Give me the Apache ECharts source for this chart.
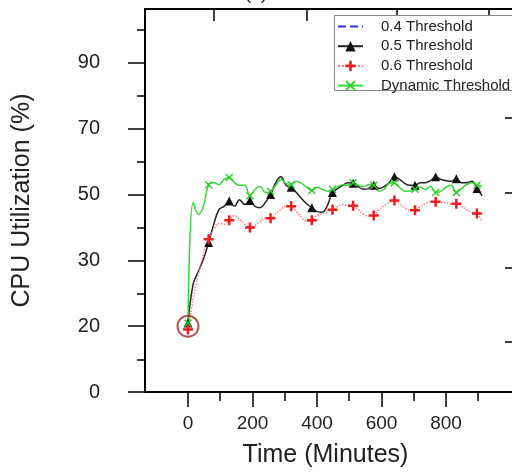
<!DOCTYPE html>
<html>
<head>
<meta charset="utf-8">
<title>CPU Utilization vs Time</title>
<style>
html,body,#chart{margin:0;padding:0;width:512px;height:473px;background:#fff}
</style>
</head>
<body>
<div id="chart"></div>
<script src="https://cdn.jsdelivr.net/npm/echarts@6/dist/echarts.min.js"></script>
<script>
// time axis (minutes)
var times = [0,16,32,48,64,80,96,112,128,144,160,176,192,208,224,240,256,272,288,304,320,336,352,368,384,400,416,432,448,464,480,496,512,528,544,560,576,592,608,624,640,656,672,688,704,720,736,752,768,784,800,816,832,848,864,880,896,912];

// values in axis units (one major y tick = 10 units)
var dynamicVals = [10.5,28.8,27.0,28.2,31.5,31.8,31.5,32.3,32.6,31.8,31.4,31.4,29.8,30.8,31.2,30.3,30.5,31.4,32.3,31.7,31.5,32.0,31.7,31.1,30.6,31.1,30.8,30.5,30.8,31.2,31.5,31.4,31.8,31.4,31.2,31.5,31.4,30.5,30.8,31.7,31.8,31.1,30.5,30.5,30.8,31.1,30.8,31.2,30.3,30.5,31.1,31.4,30.3,30.9,31.5,31.8,31.4,31.2];
var th05Vals = [10.5,16.4,18.3,20.2,22.7,25.5,27.7,28.2,29.0,28.2,29.2,28.5,29.1,28.2,28.0,28.8,30.0,31.8,32.7,31.4,31.1,30.3,29.4,28.6,28.0,27.4,27.3,28.3,30.3,30.9,31.4,31.8,31.7,31.2,30.8,30.9,31.4,30.9,31.2,31.8,32.7,32.3,31.7,31.4,31.4,31.8,31.8,32.1,32.7,32.3,32.1,32.0,32.4,31.8,31.8,32.0,30.9,29.8];
var th06Vals = [9.5,14.1,17.9,20.9,23.2,24.7,25.6,25.5,26.1,26.8,26.2,25.5,25.0,25.3,25.9,26.4,26.4,27.1,27.7,28.3,28.2,27.4,26.5,25.9,26.1,26.8,27.1,27.4,27.7,28.2,28.5,28.3,28.3,27.7,27.0,26.7,26.8,27.7,28.3,28.8,29.1,28.6,28.0,27.6,27.6,28.2,28.6,28.9,28.9,28.8,28.8,28.6,28.6,28.2,27.7,27.3,27.1,25.9];
var th04Vals = [];

var circledPoint = [[0, 10]];

var yTickValues = [0, 10, 20, 30, 40, 50];
var yTickLabels = ['0', '20', '30', '50', '70', '90'];
var yMinorTicks = [5, 15, 25, 35, 45, 55];
var xTickValues = [0, 200, 400, 600, 800];
var xMinorTicks = [100, 300, 500, 700, 900];
var topTicks = [81, 369, 648, 933];
var rightTicks = [7.6, 18.9, 30.3, 41.7];

var FONT = 'Liberation Sans';
var X_MIN = -133.3, X_MAX = 1004.7, Y_MAX = 58.18;

var PLUS = 'path://M3,0H5V3H8V5H5V8H3V5H0V3H3Z';
var CROSS = 'path://M1,0L4,3L7,0L8,1L5,4L8,7L7,8L4,5L1,8L0,7L3,4L0,1Z';

function seriesData(vals, sym) {
  return vals.map(function (v, i) {
    return { value: [times[i], v], symbol: i % 4 === 0 ? sym : 'none' };
  });
}

var chart = echarts.init(document.getElementById('chart'));

var noLine = { show: false, onZero: false };
chart.setOption({
  animation: false,
  backgroundColor: '#fff',
  graphic: [{
    type: 'text',
    style: { text: '(a)', x: 256, y: 3, font: '18px "' + FONT + '"', fill: '#222', align: 'center', verticalAlign: 'bottom' }
  }, {
    // legend frame runs off the right edge, like the cropped figure
    type: 'rect', z: 3,
    shape: { x: 334.5, y: 15.5, width: 200, height: 75 },
    style: { fill: '#fff', stroke: '#888', lineWidth: 1 }
  }],
  legend: {
    orient: 'vertical',
    left: 334, top: 15, z: 4,
    padding: [4, 60, 1, 3],
    itemWidth: 25, itemHeight: 13, itemGap: 4.7,
    textStyle: { fontFamily: FONT, fontSize: 15, lineHeight: 14, color: '#222', padding: [0, 0, 0, 13] },
    data: [
      { name: '0.4 Threshold', itemStyle: { opacity: 0 } },
      '0.5 Threshold', '0.6 Threshold', 'Dynamic Threshold'
    ]
  },
  grid: [
    { left: 145, top: 9, right: 0, height: 384 },
    { left: 145, top: 9, right: 0, height: 384 }
  ],
  xAxis: [{
    type: 'value', gridIndex: 0, position: 'bottom', min: X_MIN, max: X_MAX,
    axisLine: { onZero: false, lineStyle: { color: '#000', width: 2 } },
    axisTick: { customValues: xTickValues, length: 15, lineStyle: { color: '#000', width: 1.5 } },
    axisLabel: { customValues: xTickValues, margin: 22, fontFamily: FONT, fontSize: 19, color: '#222' },
    splitLine: { show: false },
    name: 'Time (Minutes)', nameLocation: 'middle', nameGap: 51,
    nameTextStyle: { fontFamily: FONT, fontSize: 25, color: '#222', padding: [0, 6, 0, 0] }
  }, {
    type: 'value', gridIndex: 0, position: 'top', min: X_MIN, max: X_MAX,
    axisLine: { onZero: false, lineStyle: { color: '#000', width: 2 } },
    axisTick: { inside: true, customValues: topTicks, length: 12, lineStyle: { color: '#000', width: 1.5 } },
    axisLabel: { show: false }, splitLine: { show: false }
  }, {
    type: 'value', gridIndex: 1, position: 'bottom', min: X_MIN, max: X_MAX,
    axisLine: noLine,
    axisTick: { customValues: xMinorTicks, length: 8, lineStyle: { color: '#000', width: 1.5 } },
    axisLabel: { show: false }, splitLine: { show: false }
  }],
  yAxis: [{
    type: 'value', gridIndex: 0, position: 'left', min: 0, max: Y_MAX,
    axisLine: { show: true, onZero: false, lineStyle: { color: '#000', width: 2 } },
    axisTick: { show: true, customValues: yTickValues, length: 17, lineStyle: { color: '#000', width: 1.5 } },
    axisLabel: {
      customValues: yTickValues, margin: 45, fontFamily: FONT, fontSize: 20, color: '#222',
      formatter: function (v) { var i = yTickValues.indexOf(v); return i < 0 ? '' : yTickLabels[i]; }
    },
    splitLine: { show: false },
    name: 'CPU Utilization (%)', nameLocation: 'middle', nameGap: 110,
    nameTextStyle: { fontFamily: FONT, fontSize: 25, color: '#222' }
  }, {
    type: 'value', gridIndex: 0, position: 'right', min: 0, max: Y_MAX,
    axisLine: noLine,
    axisTick: { show: true, inside: true, customValues: rightTicks, length: 7, lineStyle: { color: '#000', width: 1.5 } },
    axisLabel: { show: false }, splitLine: { show: false }
  }, {
    type: 'value', gridIndex: 1, position: 'left', min: 0, max: Y_MAX,
    axisLine: noLine,
    axisTick: { show: true, customValues: yMinorTicks, length: 8, lineStyle: { color: '#000', width: 1.5 } },
    axisLabel: { show: false }, splitLine: { show: false }
  }],
  series: [{
    name: '0.4 Threshold', type: 'line', xAxisIndex: 0, yAxisIndex: 0,
    data: th04Vals, symbol: 'none',
    lineStyle: { color: '#2a35d8', width: 1.5, type: 'dashed' },
    itemStyle: { color: '#2a35d8' }
  }, {
    name: '0.5 Threshold', type: 'line', xAxisIndex: 0, yAxisIndex: 0,
    data: seriesData(th05Vals, 'triangle'), symbol: 'triangle', symbolSize: 9, showAllSymbol: true,
    smooth: 0.4,
    lineStyle: { color: '#222', width: 1.5 },
    itemStyle: { color: '#111' }
  }, {
    name: '0.6 Threshold', type: 'line', xAxisIndex: 0, yAxisIndex: 0,
    data: seriesData(th06Vals, PLUS), symbol: PLUS, symbolSize: 10, showAllSymbol: true,
    smooth: 0.4,
    lineStyle: { color: '#f08080', width: 1.5, type: 'dotted' },
    itemStyle: { color: '#ee1c1c' }
  }, {
    name: 'Dynamic Threshold', type: 'line', xAxisIndex: 0, yAxisIndex: 0,
    data: seriesData(dynamicVals, CROSS), symbol: CROSS, symbolSize: 8, showAllSymbol: true,
    smooth: 0.4,
    lineStyle: { color: '#3ad63a', width: 1.5 },
    itemStyle: { color: '#2ecc2e' }
  }, {
    name: 'start', type: 'scatter', xAxisIndex: 0, yAxisIndex: 0,
    data: circledPoint, symbol: 'circle', symbolSize: 21, z: 5,
    itemStyle: { color: 'rgba(0,0,0,0)', borderColor: '#a3282c', borderWidth: 2 }
  }]
});
</script>
</body>
</html>
